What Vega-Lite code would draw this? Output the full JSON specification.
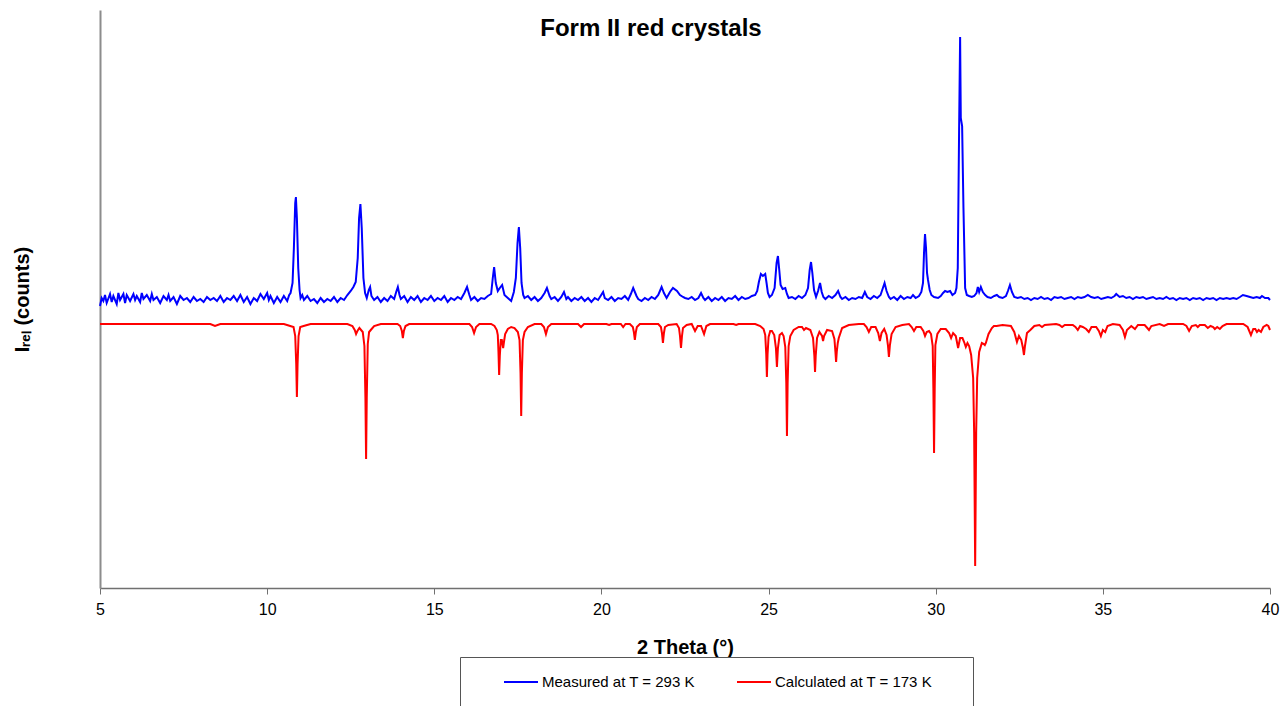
{
"$schema":"https://vega.github.io/schema/vega-lite/v6.json",
"width":1170,"height":578,
"autosize":{"type":"none"},
"padding":{"left":100,"top":10,"right":15,"bottom":118},
"background":"white",
"config":{"view":{"stroke":null},"font":"Liberation Sans"},
"title":{"text":"Form II red crystals","font":"Liberation Sans","fontSize":24,"fontWeight":"bold","color":"#000","anchor":"middle","baseline":"alphabetic","offset":-24,"dx":-34,"dy":26},
"datasets":{
"measured":[
{"theta":5.0,"counts":282},{"theta":5.05,"counts":290},{"theta":5.1,"counts":287},{"theta":5.15,"counts":293},{"theta":5.2,"counts":285},{"theta":5.3,"counts":294},{"theta":5.35,"counts":286},{"theta":5.4,"counts":292},{"theta":5.5,"counts":284},{"theta":5.55,"counts":295},{"theta":5.6,"counts":288},{"theta":5.7,"counts":294},{"theta":5.75,"counts":285},{"theta":5.8,"counts":293},{"theta":5.9,"counts":287},{"theta":6.0,"counts":294},{"theta":6.05,"counts":288},{"theta":6.1,"counts":292},{"theta":6.2,"counts":286},{"theta":6.25,"counts":295},{"theta":6.3,"counts":289},{"theta":6.4,"counts":293},{"theta":6.5,"counts":287},{"theta":6.55,"counts":294},{"theta":6.6,"counts":288},{"theta":6.7,"counts":291},{"theta":6.8,"counts":285},{"theta":6.9,"counts":292},{"theta":7.0,"counts":288},{"theta":7.05,"counts":293},{"theta":7.1,"counts":287},{"theta":7.2,"counts":291},{"theta":7.3,"counts":284},{"theta":7.4,"counts":292},{"theta":7.5,"counts":288},{"theta":7.6,"counts":290},{"theta":7.7,"counts":286},{"theta":7.8,"counts":291},{"theta":7.9,"counts":287},{"theta":8.0,"counts":289},{"theta":8.1,"counts":286},{"theta":8.2,"counts":291},{"theta":8.3,"counts":288},{"theta":8.4,"counts":290},{"theta":8.5,"counts":287},{"theta":8.6,"counts":292},{"theta":8.7,"counts":286},{"theta":8.8,"counts":290},{"theta":8.9,"counts":288},{"theta":9.0,"counts":292},{"theta":9.1,"counts":287},{"theta":9.2,"counts":293},{"theta":9.3,"counts":286},{"theta":9.4,"counts":291},{"theta":9.5,"counts":284},{"theta":9.6,"counts":290},{"theta":9.7,"counts":287},{"theta":9.8,"counts":294},{"theta":9.9,"counts":289},{"theta":10.0,"counts":295},{"theta":10.05,"counts":288},{"theta":10.1,"counts":292},{"theta":10.2,"counts":285},{"theta":10.3,"counts":291},{"theta":10.4,"counts":286},{"theta":10.5,"counts":292},{"theta":10.6,"counts":287},{"theta":10.66,"counts":293},{"theta":10.7,"counts":295},{"theta":10.76,"counts":305},{"theta":10.8,"counts":340},{"theta":10.84,"counts":385},{"theta":10.86,"counts":391},{"theta":10.89,"counts":370},{"theta":10.93,"counts":320},{"theta":10.97,"counts":298},{"theta":11.0,"counts":290},{"theta":11.05,"counts":293},{"theta":11.1,"counts":288},{"theta":11.2,"counts":292},{"theta":11.3,"counts":287},{"theta":11.4,"counts":289},{"theta":11.5,"counts":285},{"theta":11.6,"counts":290},{"theta":11.7,"counts":286},{"theta":11.8,"counts":289},{"theta":11.9,"counts":287},{"theta":12.0,"counts":291},{"theta":12.1,"counts":286},{"theta":12.2,"counts":290},{"theta":12.3,"counts":288},{"theta":12.4,"counts":293},{"theta":12.5,"counts":297},{"theta":12.58,"counts":301},{"theta":12.65,"counts":306},{"theta":12.71,"counts":330},{"theta":12.75,"counts":370},{"theta":12.79,"counts":384},{"theta":12.83,"counts":360},{"theta":12.88,"counts":310},{"theta":12.93,"counts":295},{"theta":12.98,"counts":290},{"theta":13.04,"counts":298},{"theta":13.08,"counts":301},{"theta":13.12,"counts":292},{"theta":13.2,"counts":288},{"theta":13.3,"counts":291},{"theta":13.4,"counts":286},{"theta":13.5,"counts":290},{"theta":13.6,"counts":287},{"theta":13.7,"counts":292},{"theta":13.8,"counts":289},{"theta":13.86,"counts":296},{"theta":13.91,"counts":301},{"theta":13.96,"counts":293},{"theta":14.0,"counts":289},{"theta":14.1,"counts":292},{"theta":14.2,"counts":286},{"theta":14.3,"counts":291},{"theta":14.4,"counts":288},{"theta":14.5,"counts":292},{"theta":14.6,"counts":286},{"theta":14.7,"counts":290},{"theta":14.8,"counts":288},{"theta":14.9,"counts":292},{"theta":15.0,"counts":287},{"theta":15.1,"counts":290},{"theta":15.2,"counts":288},{"theta":15.3,"counts":292},{"theta":15.4,"counts":286},{"theta":15.5,"counts":290},{"theta":15.6,"counts":288},{"theta":15.7,"counts":291},{"theta":15.8,"counts":289},{"theta":15.9,"counts":295},{"theta":15.98,"counts":301},{"theta":16.05,"counts":293},{"theta":16.1,"counts":288},{"theta":16.2,"counts":291},{"theta":16.3,"counts":287},{"theta":16.4,"counts":290},{"theta":16.5,"counts":289},{"theta":16.6,"counts":292},{"theta":16.7,"counts":294},{"theta":16.75,"counts":310},{"theta":16.79,"counts":321},{"theta":16.84,"counts":305},{"theta":16.9,"counts":297},{"theta":16.96,"counts":300},{"theta":17.03,"counts":303},{"theta":17.1,"counts":293},{"theta":17.2,"counts":290},{"theta":17.3,"counts":287},{"theta":17.38,"counts":296},{"theta":17.44,"counts":310},{"theta":17.49,"counts":345},{"theta":17.53,"counts":361},{"theta":17.57,"counts":340},{"theta":17.61,"counts":305},{"theta":17.66,"counts":293},{"theta":17.7,"counts":290},{"theta":17.8,"counts":292},{"theta":17.9,"counts":288},{"theta":18.0,"counts":291},{"theta":18.1,"counts":287},{"theta":18.2,"counts":290},{"theta":18.3,"counts":295},{"theta":18.37,"counts":300},{"theta":18.45,"counts":292},{"theta":18.5,"counts":289},{"theta":18.6,"counts":291},{"theta":18.7,"counts":287},{"theta":18.8,"counts":291},{"theta":18.88,"counts":296},{"theta":18.95,"counts":289},{"theta":19.0,"counts":291},{"theta":19.1,"counts":287},{"theta":19.2,"counts":290},{"theta":19.3,"counts":288},{"theta":19.4,"counts":291},{"theta":19.5,"counts":287},{"theta":19.6,"counts":290},{"theta":19.7,"counts":286},{"theta":19.8,"counts":290},{"theta":19.9,"counts":288},{"theta":20.05,"counts":296},{"theta":20.1,"counts":290},{"theta":20.2,"counts":288},{"theta":20.3,"counts":291},{"theta":20.4,"counts":287},{"theta":20.5,"counts":290},{"theta":20.6,"counts":289},{"theta":20.7,"counts":292},{"theta":20.8,"counts":288},{"theta":20.88,"counts":294},{"theta":20.95,"counts":300},{"theta":21.05,"counts":292},{"theta":21.1,"counts":289},{"theta":21.2,"counts":287},{"theta":21.3,"counts":290},{"theta":21.4,"counts":288},{"theta":21.5,"counts":291},{"theta":21.6,"counts":289},{"theta":21.7,"counts":293},{"theta":21.8,"counts":301},{"theta":21.87,"counts":295},{"theta":21.95,"counts":290},{"theta":22.05,"counts":296},{"theta":22.14,"counts":300},{"theta":22.26,"counts":297},{"theta":22.35,"counts":293},{"theta":22.44,"counts":291},{"theta":22.5,"counts":290},{"theta":22.6,"counts":289},{"theta":22.7,"counts":291},{"theta":22.8,"counts":288},{"theta":22.9,"counts":290},{"theta":22.98,"counts":295},{"theta":23.05,"counts":290},{"theta":23.1,"counts":288},{"theta":23.2,"counts":291},{"theta":23.3,"counts":287},{"theta":23.4,"counts":290},{"theta":23.5,"counts":288},{"theta":23.6,"counts":291},{"theta":23.7,"counts":287},{"theta":23.8,"counts":290},{"theta":23.9,"counts":289},{"theta":24.0,"counts":292},{"theta":24.1,"counts":288},{"theta":24.2,"counts":291},{"theta":24.3,"counts":289},{"theta":24.4,"counts":290},{"theta":24.5,"counts":292},{"theta":24.6,"counts":293},{"theta":24.66,"counts":297},{"theta":24.71,"counts":306},{"theta":24.77,"counts":314},{"theta":24.83,"counts":312},{"theta":24.9,"counts":314},{"theta":24.94,"counts":305},{"theta":24.98,"counts":295},{"theta":25.03,"counts":291},{"theta":25.1,"counts":293},{"theta":25.18,"counts":300},{"theta":25.24,"counts":325},{"theta":25.28,"counts":332},{"theta":25.32,"counts":318},{"theta":25.36,"counts":303},{"theta":25.42,"counts":299},{"theta":25.5,"counts":300},{"theta":25.55,"counts":294},{"theta":25.6,"counts":290},{"theta":25.7,"counts":291},{"theta":25.8,"counts":289},{"theta":25.9,"counts":292},{"theta":26.0,"counts":290},{"theta":26.1,"counts":293},{"theta":26.18,"counts":300},{"theta":26.23,"counts":318},{"theta":26.27,"counts":326},{"theta":26.31,"counts":315},{"theta":26.36,"counts":298},{"theta":26.42,"counts":291},{"theta":26.48,"counts":297},{"theta":26.54,"counts":305},{"theta":26.59,"counts":296},{"theta":26.64,"counts":291},{"theta":26.7,"counts":289},{"theta":26.8,"counts":292},{"theta":26.9,"counts":290},{"theta":27.0,"counts":293},{"theta":27.08,"counts":297},{"theta":27.15,"counts":291},{"theta":27.2,"counts":289},{"theta":27.3,"counts":291},{"theta":27.4,"counts":288},{"theta":27.5,"counts":290},{"theta":27.6,"counts":289},{"theta":27.7,"counts":291},{"theta":27.8,"counts":290},{"theta":27.88,"counts":296},{"theta":27.95,"counts":291},{"theta":28.05,"counts":289},{"theta":28.15,"counts":292},{"theta":28.25,"counts":290},{"theta":28.35,"counts":293},{"theta":28.42,"counts":300},{"theta":28.47,"counts":305},{"theta":28.53,"counts":297},{"theta":28.6,"counts":291},{"theta":28.65,"counts":289},{"theta":28.75,"counts":291},{"theta":28.85,"counts":288},{"theta":28.95,"counts":292},{"theta":29.05,"counts":289},{"theta":29.15,"counts":291},{"theta":29.25,"counts":290},{"theta":29.32,"counts":293},{"theta":29.4,"counts":290},{"theta":29.5,"counts":292},{"theta":29.57,"counts":296},{"theta":29.62,"counts":305},{"theta":29.65,"counts":335},{"theta":29.68,"counts":354},{"theta":29.71,"counts":340},{"theta":29.74,"counts":315},{"theta":29.77,"counts":308},{"theta":29.82,"counts":298},{"theta":29.87,"counts":293},{"theta":29.95,"counts":291},{"theta":30.07,"counts":290},{"theta":30.15,"counts":292},{"theta":30.22,"counts":295},{"theta":30.28,"counts":297},{"theta":30.35,"counts":296},{"theta":30.43,"counts":297},{"theta":30.5,"counts":293},{"theta":30.58,"counts":295},{"theta":30.62,"counts":300},{"theta":30.66,"counts":320},{"theta":30.7,"counts":460},{"theta":30.73,"counts":551},{"theta":30.75,"counts":470},{"theta":30.79,"counts":462},{"theta":30.83,"counts":380},{"theta":30.88,"counts":300},{"theta":30.93,"counts":293},{"theta":31.0,"counts":292},{"theta":31.08,"counts":291},{"theta":31.15,"counts":292},{"theta":31.22,"counts":295},{"theta":31.26,"counts":301},{"theta":31.3,"counts":296},{"theta":31.35,"counts":301},{"theta":31.41,"counts":296},{"theta":31.48,"counts":293},{"theta":31.55,"counts":291},{"theta":31.65,"counts":290},{"theta":31.75,"counts":292},{"theta":31.83,"counts":293},{"theta":31.9,"counts":291},{"theta":32.0,"counts":290},{"theta":32.1,"counts":292},{"theta":32.16,"counts":297},{"theta":32.22,"counts":303},{"theta":32.28,"counts":296},{"theta":32.35,"counts":291},{"theta":32.45,"counts":290},{"theta":32.55,"counts":291},{"theta":32.65,"counts":289},{"theta":32.75,"counts":290},{"theta":32.85,"counts":288},{"theta":32.95,"counts":290},{"theta":33.05,"counts":289},{"theta":33.15,"counts":291},{"theta":33.25,"counts":289},{"theta":33.35,"counts":290},{"theta":33.45,"counts":288},{"theta":33.55,"counts":291},{"theta":33.65,"counts":290},{"theta":33.75,"counts":291},{"theta":33.85,"counts":289},{"theta":33.95,"counts":290},{"theta":34.05,"counts":291},{"theta":34.15,"counts":289},{"theta":34.25,"counts":291},{"theta":34.35,"counts":290},{"theta":34.45,"counts":291},{"theta":34.55,"counts":293},{"theta":34.65,"counts":291},{"theta":34.75,"counts":290},{"theta":34.85,"counts":291},{"theta":34.95,"counts":289},{"theta":35.05,"counts":290},{"theta":35.15,"counts":291},{"theta":35.25,"counts":290},{"theta":35.35,"counts":292},{"theta":35.4,"counts":294},{"theta":35.5,"counts":291},{"theta":35.6,"counts":292},{"theta":35.7,"counts":290},{"theta":35.8,"counts":291},{"theta":35.9,"counts":289},{"theta":36.0,"counts":291},{"theta":36.1,"counts":290},{"theta":36.2,"counts":291},{"theta":36.3,"counts":289},{"theta":36.4,"counts":290},{"theta":36.5,"counts":291},{"theta":36.6,"counts":289},{"theta":36.7,"counts":290},{"theta":36.8,"counts":289},{"theta":36.9,"counts":291},{"theta":37.0,"counts":289},{"theta":37.1,"counts":290},{"theta":37.2,"counts":288},{"theta":37.3,"counts":290},{"theta":37.4,"counts":289},{"theta":37.5,"counts":290},{"theta":37.6,"counts":288},{"theta":37.7,"counts":290},{"theta":37.8,"counts":289},{"theta":37.9,"counts":290},{"theta":38.0,"counts":288},{"theta":38.1,"counts":290},{"theta":38.2,"counts":289},{"theta":38.3,"counts":290},{"theta":38.4,"counts":288},{"theta":38.5,"counts":290},{"theta":38.6,"counts":289},{"theta":38.7,"counts":290},{"theta":38.8,"counts":289},{"theta":38.9,"counts":290},{"theta":39.0,"counts":289},{"theta":39.1,"counts":291},{"theta":39.19,"counts":293},{"theta":39.3,"counts":292},{"theta":39.4,"counts":291},{"theta":39.5,"counts":290},{"theta":39.6,"counts":291},{"theta":39.7,"counts":290},{"theta":39.76,"counts":292},{"theta":39.85,"counts":290},{"theta":39.95,"counts":290},{"theta":40.0,"counts":288}
],
"calculated":[
{"theta":5.0,"counts":264},{"theta":8.3,"counts":264},{"theta":8.44,"counts":262},{"theta":8.6,"counts":264},{"theta":10.5,"counts":264},{"theta":10.69,"counts":262},{"theta":10.79,"counts":261},{"theta":10.84,"counts":252},{"theta":10.87,"counts":224},{"theta":10.89,"counts":191},{"theta":10.91,"counts":224},{"theta":10.94,"counts":252},{"theta":10.99,"counts":261},{"theta":11.09,"counts":262},{"theta":11.3,"counts":264},
{"theta":12.4,"counts":264},{"theta":12.55,"counts":262},{"theta":12.62,"counts":258},{"theta":12.66,"counts":254},{"theta":12.7,"counts":257},{"theta":12.76,"counts":260},{"theta":12.86,"counts":256},{"theta":12.91,"counts":242},{"theta":12.94,"counts":190},{"theta":12.96,"counts":129},{"theta":12.98,"counts":190},{"theta":13.01,"counts":244},{"theta":13.05,"counts":256},{"theta":13.1,"counts":258},{"theta":13.2,"counts":262},{"theta":13.4,"counts":264},
{"theta":13.9,"counts":264},{"theta":13.98,"counts":262},{"theta":14.03,"counts":257},{"theta":14.06,"counts":250},{"theta":14.09,"counts":257},{"theta":14.14,"counts":262},{"theta":14.25,"counts":264},
{"theta":16.05,"counts":264},{"theta":16.13,"counts":261},{"theta":16.19,"counts":255},{"theta":16.25,"counts":261},{"theta":16.35,"counts":264},
{"theta":16.7,"counts":264},{"theta":16.8,"counts":262},{"theta":16.87,"counts":258},{"theta":16.9,"counts":253},{"theta":16.92,"counts":236},{"theta":16.94,"counts":213},{"theta":16.96,"counts":232},{"theta":16.99,"counts":248},{"theta":17.02,"counts":248},{"theta":17.04,"counts":244},{"theta":17.06,"counts":240},{"theta":17.08,"counts":245},{"theta":17.12,"counts":254},{"theta":17.2,"counts":259},{"theta":17.3,"counts":261},{"theta":17.4,"counts":260},{"theta":17.5,"counts":256},{"theta":17.55,"counts":248},{"theta":17.58,"counts":215},{"theta":17.6,"counts":172},{"theta":17.62,"counts":215},{"theta":17.65,"counts":248},{"theta":17.7,"counts":256},{"theta":17.8,"counts":261},{"theta":18.0,"counts":264},
{"theta":18.2,"counts":264},{"theta":18.28,"counts":261},{"theta":18.34,"counts":254},{"theta":18.4,"counts":261},{"theta":18.5,"counts":264},
{"theta":19.3,"counts":264},{"theta":19.39,"counts":261},{"theta":19.48,"counts":264},
{"theta":20.15,"counts":264},{"theta":20.23,"counts":263},{"theta":20.3,"counts":264},
{"theta":20.58,"counts":264},{"theta":20.65,"counts":261},{"theta":20.72,"counts":264},
{"theta":20.85,"counts":264},{"theta":20.94,"counts":261},{"theta":20.97,"counts":256},{"theta":21.0,"counts":248},{"theta":21.03,"counts":256},{"theta":21.06,"counts":261},{"theta":21.15,"counts":264},
{"theta":21.7,"counts":264},{"theta":21.78,"counts":261},{"theta":21.81,"counts":255},{"theta":21.84,"counts":245},{"theta":21.87,"counts":255},{"theta":21.9,"counts":261},{"theta":22.0,"counts":263},
{"theta":22.25,"counts":264},{"theta":22.32,"counts":260},{"theta":22.35,"counts":252},{"theta":22.38,"counts":240},{"theta":22.41,"counts":252},{"theta":22.44,"counts":260},{"theta":22.55,"counts":263},
{"theta":22.7,"counts":264},{"theta":22.8,"counts":257},{"theta":22.88,"counts":262},{"theta":22.98,"counts":262},{"theta":23.07,"counts":254},{"theta":23.14,"counts":262},{"theta":23.25,"counts":264},
{"theta":23.95,"counts":264},{"theta":24.03,"counts":263},{"theta":24.1,"counts":264},
{"theta":24.6,"counts":264},{"theta":24.75,"counts":262},{"theta":24.85,"counts":259},{"theta":24.9,"counts":253},{"theta":24.93,"counts":234},{"theta":24.95,"counts":211},{"theta":24.97,"counts":234},{"theta":25.0,"counts":251},{"theta":25.05,"counts":257},{"theta":25.1,"counts":257},{"theta":25.17,"counts":253},{"theta":25.22,"counts":240},{"theta":25.25,"counts":221},{"theta":25.28,"counts":240},{"theta":25.33,"counts":253},{"theta":25.4,"counts":255},{"theta":25.45,"counts":252},{"theta":25.5,"counts":241},{"theta":25.53,"counts":205},{"theta":25.55,"counts":152},{"theta":25.57,"counts":205},{"theta":25.6,"counts":242},{"theta":25.65,"counts":252},{"theta":25.75,"counts":258},{"theta":25.9,"counts":261},{"theta":26.0,"counts":261},{"theta":26.06,"counts":258},{"theta":26.12,"counts":260},{"theta":26.25,"counts":258},{"theta":26.33,"counts":250},{"theta":26.37,"counts":232},{"theta":26.39,"counts":216},{"theta":26.41,"counts":232},{"theta":26.45,"counts":250},{"theta":26.52,"counts":256},{"theta":26.6,"counts":252},{"theta":26.63,"counts":247},{"theta":26.66,"counts":252},{"theta":26.75,"counts":258},{"theta":26.9,"counts":257},{"theta":26.97,"counts":249},{"theta":27.0,"counts":236},{"theta":27.02,"counts":226},{"theta":27.04,"counts":236},{"theta":27.07,"counts":245},{"theta":27.1,"counts":250},{"theta":27.2,"counts":260},{"theta":27.4,"counts":263},{"theta":27.7,"counts":264},
{"theta":27.85,"counts":264},{"theta":27.93,"counts":261},{"theta":28.0,"counts":256},{"theta":28.07,"counts":261},{"theta":28.2,"counts":261},{"theta":28.28,"counts":255},{"theta":28.33,"counts":247},{"theta":28.38,"counts":255},{"theta":28.46,"counts":259},{"theta":28.53,"counts":253},{"theta":28.57,"counts":243},{"theta":28.6,"counts":231},{"theta":28.63,"counts":243},{"theta":28.68,"counts":254},{"theta":28.8,"counts":261},{"theta":29.0,"counts":263},
{"theta":29.2,"counts":264},{"theta":29.28,"counts":261},{"theta":29.35,"counts":257},{"theta":29.42,"counts":261},{"theta":29.55,"counts":261},{"theta":29.63,"counts":257},{"theta":29.68,"counts":252},{"theta":29.73,"counts":256},{"theta":29.8,"counts":257},{"theta":29.86,"counts":254},{"theta":29.91,"counts":242},{"theta":29.93,"counts":200},{"theta":29.95,"counts":135},{"theta":29.97,"counts":200},{"theta":29.99,"counts":243},{"theta":30.05,"counts":254},{"theta":30.15,"counts":259},{"theta":30.3,"counts":259},{"theta":30.4,"counts":255},{"theta":30.46,"counts":250},{"theta":30.52,"counts":255},{"theta":30.6,"counts":252},{"theta":30.67,"counts":240},{"theta":30.73,"counts":250},{"theta":30.8,"counts":250},{"theta":30.85,"counts":246},{"theta":30.9,"counts":241},{"theta":30.95,"counts":245},{"theta":31.0,"counts":242},{"theta":31.06,"counts":233},{"theta":31.12,"counts":210},{"theta":31.15,"counts":155},{"theta":31.18,"counts":22},{"theta":31.21,"counts":155},{"theta":31.24,"counts":210},{"theta":31.3,"counts":236},{"theta":31.38,"counts":245},{"theta":31.44,"counts":244},{"theta":31.47,"counts":243},{"theta":31.5,"counts":245},{"theta":31.58,"counts":254},{"theta":31.68,"counts":260},{"theta":31.74,"counts":262},{"theta":31.82,"counts":262},{"theta":32.0,"counts":263},{"theta":32.25,"counts":262},{"theta":32.35,"counts":256},{"theta":32.43,"counts":246},{"theta":32.49,"counts":252},{"theta":32.56,"counts":248},{"theta":32.61,"counts":240},{"theta":32.64,"counts":233},{"theta":32.67,"counts":242},{"theta":32.73,"counts":255},{"theta":32.83,"counts":258},{"theta":32.95,"counts":262},{"theta":33.1,"counts":263},{"theta":33.18,"counts":261},{"theta":33.26,"counts":263},{"theta":33.6,"counts":264},{"theta":33.7,"counts":263},{"theta":33.78,"counts":261},{"theta":33.86,"counts":263},{"theta":34.1,"counts":263},{"theta":34.18,"counts":261},{"theta":34.25,"counts":258},{"theta":34.32,"counts":262},{"theta":34.4,"counts":261},{"theta":34.5,"counts":259},{"theta":34.58,"counts":256},{"theta":34.66,"counts":261},{"theta":34.8,"counts":261},{"theta":34.88,"counts":257},{"theta":34.94,"counts":252},{"theta":35.0,"counts":258},{"theta":35.07,"counts":256},{"theta":35.14,"counts":262},{"theta":35.3,"counts":264},{"theta":35.5,"counts":263},{"theta":35.6,"counts":258},{"theta":35.66,"counts":251},{"theta":35.72,"counts":258},{"theta":35.85,"counts":262},{"theta":35.96,"counts":259},{"theta":36.05,"counts":263},{"theta":36.25,"counts":263},{"theta":36.33,"counts":260},{"theta":36.38,"counts":258},{"theta":36.45,"counts":262},{"theta":36.7,"counts":264},{"theta":36.83,"counts":262},{"theta":36.95,"counts":264},{"theta":37.4,"counts":264},{"theta":37.5,"counts":262},{"theta":37.58,"counts":257},{"theta":37.66,"counts":262},{"theta":37.78,"counts":263},{"theta":37.84,"counts":261},{"theta":37.9,"counts":263},{"theta":38.05,"counts":263},{"theta":38.14,"counts":260},{"theta":38.22,"counts":262},{"theta":38.3,"counts":261},{"theta":38.35,"counts":259},{"theta":38.42,"counts":261},{"theta":38.5,"counts":259},{"theta":38.58,"counts":262},{"theta":38.7,"counts":264},{"theta":39.2,"counts":264},{"theta":39.33,"counts":261},{"theta":39.43,"counts":253},{"theta":39.5,"counts":259},{"theta":39.56,"counts":259},{"theta":39.61,"counts":256},{"theta":39.66,"counts":258},{"theta":39.73,"counts":256},{"theta":39.8,"counts":261},{"theta":39.9,"counts":263},{"theta":39.95,"counts":262},{"theta":40.0,"counts":258}
]
},
"encoding":{
"x":{"field":"theta","type":"quantitative","scale":{"domain":[5,40],"nice":false,"zero":false},
"axis":{"values":[5,10,15,20,25,30,35,40],"format":"d","grid":false,"labelFlush":false,"title":"2 Theta (°)","titleFont":"Liberation Sans","titleFontSize":20,"titleFontWeight":"bold","titleColor":"#000","titlePadding":20,"labelFont":"Liberation Sans","labelFontSize":16,"labelColor":"#000","labelPadding":7,"tickSize":6,"tickColor":"#707070","domainColor":"#707070","domainWidth":1.5}},
"y":{"field":"counts","type":"quantitative","scale":{"domain":[0,578],"nice":false},
"axis":{"labels":false,"ticks":false,"grid":false,"title":"Iᵣₑₗ (counts)","titleFont":"Liberation Sans","titleFontSize":20,"titleFontWeight":"bold","titleColor":"#000","titlePadding":68,"domainColor":"#8c8c8c","domainWidth":2}}
},
"layer":[
{"data":{"name":"measured"},"mark":{"type":"line","strokeWidth":2,"interpolate":"linear"},
"encoding":{"color":{"datum":"Measured at T = 293 K","type":"nominal",
"scale":{"domain":["Measured at T = 293 K","Calculated at T = 173 K"],"range":["#0000ff","#ff0000"]},
"legend":{"orient":"none","legendX":360,"legendY":647,"direction":"horizontal","title":" ","titleOrient":"bottom","titlePadding":6,"titleFontSize":15,"symbolType":"stroke","symbolSize":1156,"symbolStrokeWidth":2,"symbolOffset":36,"labelFont":"Liberation Sans","labelFontSize":15,"labelColor":"#000","labelOffset":3,"labelLimit":400,"labelExpr":"datum.label[0] == 'C' ? datum.label + '\u2800\u2800\u2800' : datum.label","columnPadding":4,"padding":7,"strokeColor":"#555","fillColor":"white"}}}},
{"data":{"name":"calculated"},"mark":{"type":"line","strokeWidth":2,"interpolate":"linear"},
"encoding":{"color":{"datum":"Calculated at T = 173 K","type":"nominal"}}}
]
}
